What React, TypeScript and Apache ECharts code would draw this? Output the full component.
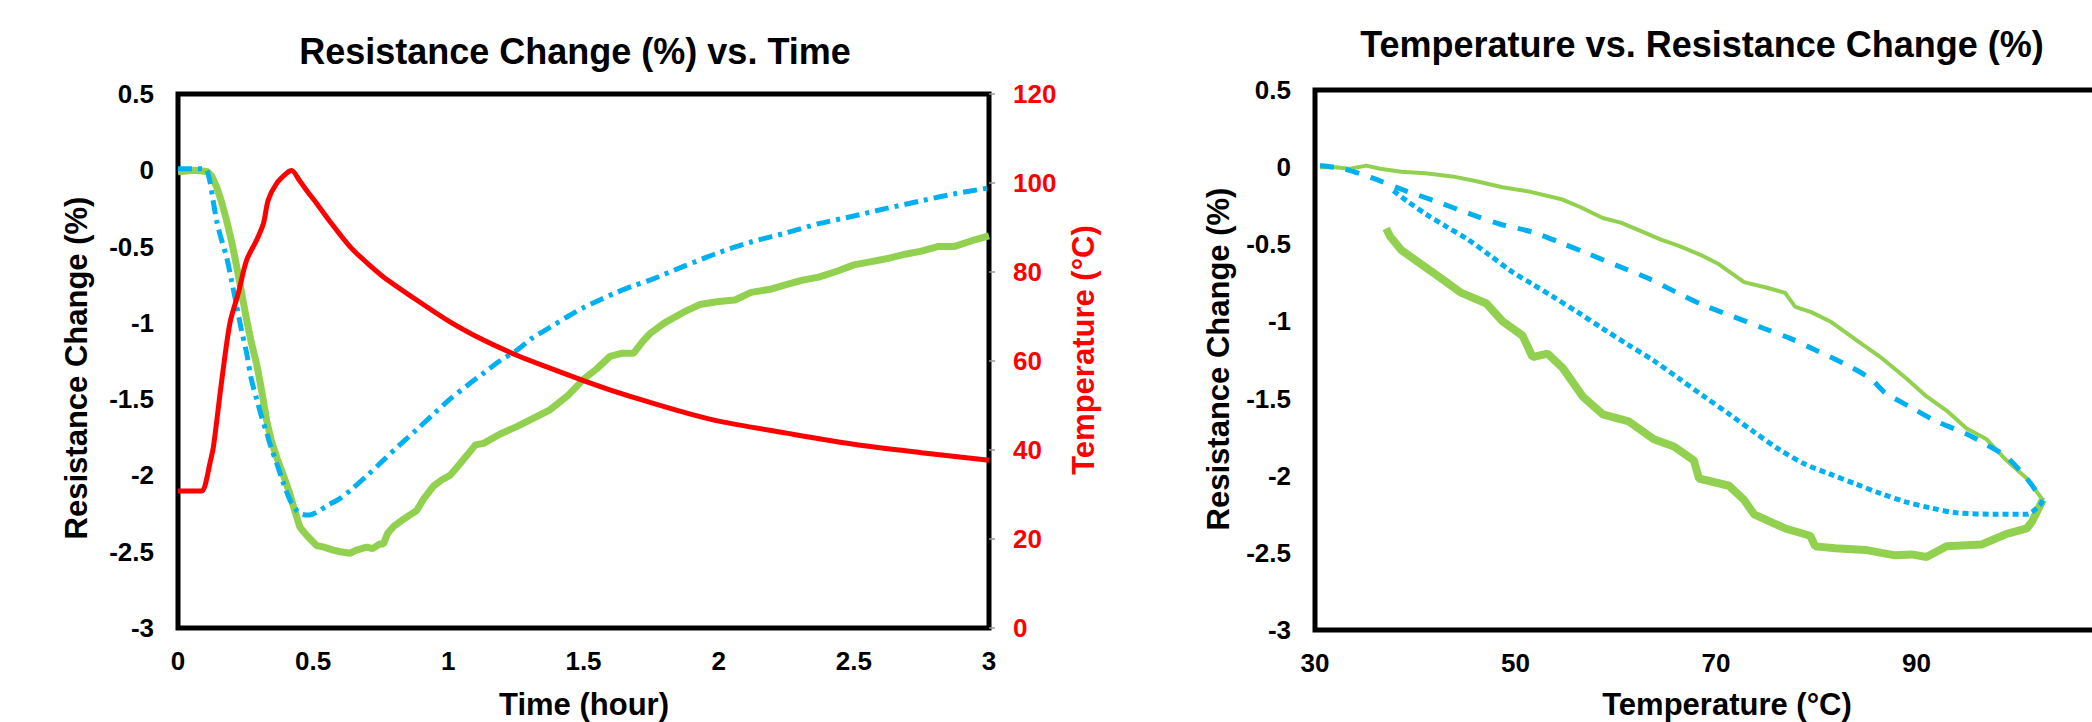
import React, { useEffect, useRef } from 'react';
import * as echarts from 'echarts';

const FONT = '"Liberation Sans", Arial, sans-serif';

// ---- Titles / axis names ----
const leftTitle = 'Resistance Change (%) vs. Time';
const rightTitle = 'Temperature vs. Resistance Change (%)';
const resistanceName = 'Resistance Change (%)';
const timeName = 'Time (hour)';
const tempName = 'Temperature (°C)';

// ---- Left chart: temperature vs time (red, right axis) ----
const tempVsTime: [number, number][] = [
  [0, 30.8], [0.088, 30.8], [0.1, 32], [0.118, 37], [0.131, 40.7], [0.162, 55.7], [0.192, 68.5],
  [0.223, 75.2], [0.254, 82.7], [0.291, 87.2], [0.316, 90.9], [0.334, 96.2], [0.365, 99.9],
  [0.402, 102.2], [0.42, 102.8], [0.45, 100.5], [0.48, 98], [0.513, 95.4], [0.56, 91.5],
  [0.636, 85.7], [0.7, 82], [0.76, 78.9], [0.883, 73.7], [1.006, 68.8], [1.13, 64.7],
  [1.253, 61.3], [1.376, 58.4], [1.5, 55.6], [1.623, 53], [1.746, 50.7], [1.87, 48.5],
  [2.0, 46.5], [2.25, 43.8], [2.5, 41.3], [2.75, 39.4], [3.0, 37.7],
];

// ---- Left chart: resistance change vs time, blue (dash-dot) ----
const blueVsTime: [number, number][] = [
  [0, 0.01], [0.05, 0.01], [0.1, 0.01], [0.115, -0.05], [0.13, -0.2], [0.143, -0.33], [0.16, -0.45],
  [0.18, -0.57], [0.2, -0.74], [0.217, -0.89], [0.235, -1.05], [0.254, -1.2], [0.27, -1.36],
  [0.291, -1.5], [0.31, -1.62], [0.328, -1.72], [0.345, -1.82], [0.365, -1.92], [0.39, -2.05],
  [0.414, -2.16], [0.435, -2.22], [0.451, -2.25], [0.482, -2.26], [0.515, -2.24], [0.55, -2.2],
  [0.6, -2.15], [0.636, -2.1], [0.7, -2.0], [0.76, -1.9], [0.82, -1.8], [0.883, -1.7],
  [0.95, -1.59], [1.006, -1.5], [1.07, -1.41], [1.13, -1.33], [1.19, -1.25], [1.253, -1.18],
  [1.31, -1.1], [1.376, -1.03], [1.44, -0.96], [1.5, -0.9], [1.56, -0.85], [1.623, -0.8],
  [1.68, -0.76], [1.746, -0.72], [1.87, -0.63], [2.0, -0.54], [2.12, -0.47], [2.25, -0.41],
  [2.37, -0.35], [2.5, -0.3], [2.62, -0.25], [2.75, -0.2], [2.87, -0.155], [3.0, -0.115],
];

// ---- Left chart: resistance change vs time, green ----
const greenVsTime: [number, number][] = [
  [0, -0.01], [0.03, -0.005], [0.06, 0.0], [0.09, -0.005], [0.11, -0.01], [0.125, -0.04],
  [0.143, -0.11], [0.16, -0.2], [0.18, -0.33], [0.2, -0.48], [0.217, -0.63], [0.235, -0.8],
  [0.254, -0.98], [0.27, -1.12], [0.291, -1.27], [0.31, -1.45], [0.328, -1.64], [0.345, -1.77],
  [0.365, -1.88], [0.39, -2.0], [0.414, -2.12], [0.43, -2.22], [0.451, -2.34], [0.48, -2.4],
  [0.513, -2.46], [0.54, -2.47], [0.574, -2.49], [0.6, -2.5], [0.636, -2.51], [0.66, -2.49],
  [0.698, -2.47], [0.72, -2.48], [0.745, -2.45], [0.76, -2.45], [0.775, -2.38], [0.8, -2.33],
  [0.84, -2.28], [0.883, -2.23], [0.91, -2.15], [0.945, -2.07], [0.975, -2.03], [1.006, -2.0],
  [1.04, -1.93], [1.068, -1.87], [1.1, -1.8], [1.13, -1.79], [1.19, -1.73], [1.253, -1.68],
  [1.31, -1.63], [1.376, -1.57], [1.44, -1.48], [1.5, -1.37], [1.55, -1.3], [1.598, -1.22],
  [1.64, -1.2], [1.685, -1.2], [1.72, -1.12], [1.746, -1.07], [1.8, -1.0], [1.87, -0.93],
  [1.93, -0.88], [2.0, -0.86], [2.06, -0.85], [2.12, -0.8], [2.19, -0.78], [2.25, -0.75],
  [2.31, -0.72], [2.37, -0.7], [2.44, -0.66], [2.5, -0.62], [2.56, -0.6], [2.62, -0.58],
  [2.69, -0.55], [2.75, -0.53], [2.81, -0.5], [2.87, -0.5], [2.94, -0.46], [3.0, -0.43],
];

// ---- Right chart: resistance change vs temperature ----
const blueHeating: [number, number][] = [
  [30.5, 0.01], [32.8, -0.01], [35.7, -0.07], [38.6, -0.143], [42, -0.22], [45.6, -0.306],
  [48.5, -0.37], [51.7, -0.421], [54.5, -0.49], [57.2, -0.56], [60.2, -0.64], [63.3, -0.722],
  [66, -0.81], [68.8, -0.896], [71.8, -0.97], [74.8, -1.046], [77.4, -1.11], [79.9, -1.185],
  [82.9, -1.278], [85.4, -1.37], [86.9, -1.463], [89.4, -1.555], [92, -1.648], [95, -1.729],
  [97, -1.8], [99, -1.879], [101, -2.018], [102.3, -2.134], [102.6, -2.16],
];
const blueCooling: [number, number][] = [
  [102.6, -2.16], [102.3, -2.19], [101, -2.25], [98, -2.25], [94, -2.24], [91.5, -2.21],
  [88.9, -2.169], [86.4, -2.115], [83.9, -2.053], [81.4, -1.99], [78.9, -1.926], [76.3, -1.83],
  [73.8, -1.717], [71.3, -1.6], [68.8, -1.486], [66.3, -1.37], [63.8, -1.255], [61.2, -1.15],
  [58.7, -1.046], [56.2, -0.94], [53.7, -0.838], [51.6, -0.755], [49.6, -0.676], [47.4, -0.57],
  [45.2, -0.467], [43.1, -0.385], [41.1, -0.306], [39.3, -0.225], [37.6, -0.143],
];
const greenHeating: [number, number][] = [
  [30.5, 0.0], [32, 0.0], [33.5, -0.01], [35.1, 0.01], [36.5, -0.01], [38.6, -0.03], [41, -0.04],
  [43.7, -0.06], [46, -0.09], [48.7, -0.13], [51.5, -0.16], [54.7, -0.21], [56.5, -0.26],
  [58.7, -0.33], [60.5, -0.36], [62.7, -0.42], [64.5, -0.47], [66.3, -0.51], [68.5, -0.57],
  [70.3, -0.63], [72.8, -0.745], [75, -0.78], [76.9, -0.815], [77.9, -0.906], [79.5, -0.94],
  [81.4, -1.0], [83.9, -1.116], [86.4, -1.231], [89, -1.37], [91, -1.486], [93, -1.578],
  [95, -1.694], [97, -1.764], [99, -1.902], [101, -2.018], [102.6, -2.157],
];
const greenCooling: [number, number][] = [
  [102.6, -2.157], [101.5, -2.3], [101, -2.342], [99, -2.377], [96.5, -2.446], [93, -2.457],
  [91, -2.527], [89.5, -2.51], [87.9, -2.516], [86.5, -2.5], [84.9, -2.481], [81.9, -2.47],
  [79.9, -2.458], [79.4, -2.389], [76.9, -2.342], [73.8, -2.25], [72.8, -2.157], [71.3, -2.065],
  [68.3, -2.018], [67.8, -1.902], [65.8, -1.81], [63.8, -1.764], [61.3, -1.648], [58.7, -1.602],
  [56.7, -1.486], [54.7, -1.301], [53.2, -1.208], [51.7, -1.231], [50.7, -1.092], [48.7, -0.999],
  [47.1, -0.884], [44.6, -0.815], [42.6, -0.722], [40.6, -0.63], [38.6, -0.537], [37.5, -0.45],
  [37.1, -0.398],
];

const RED = '#ff0000';
const BLUE = '#00b0f0';
const GREEN = '#92d050';

function labelStyle(color: string, margin: number) {
  return { show: true, color, fontSize: 26, fontWeight: 'bold' as const, fontFamily: FONT, margin };
}

function gText(text: string, x: number, y: number, size: number, color = '#000', rotation = 0) {
  return {
    type: 'text',
    x,
    y,
    rotation,
    style: {
      text,
      fill: color,
      fontSize: size,
      fontWeight: 'bold',
      fontFamily: FONT,
      align: 'center',
      verticalAlign: 'middle',
    },
  };
}

export default function App() {
  const ref = useRef<HTMLDivElement>(null);
  useEffect(() => {
    document.body.style.margin = '0';
    const chart = echarts.init(ref.current!, null, { renderer: 'svg' });
    const option: any = {
      animation: false,
      backgroundColor: '#fff',
      grid: [
        { left: 178, top: 94, width: 811, height: 534, show: true, borderColor: '#000', borderWidth: 5, backgroundColor: 'transparent', containLabel: false, outerBoundsMode: 'none' },
        { left: 1315, top: 90, width: 802, height: 540, show: true, borderColor: '#000', borderWidth: 5, backgroundColor: 'transparent', containLabel: false, outerBoundsMode: 'none' },
      ],
      xAxis: [
        {
          type: 'value', gridIndex: 0, min: 0, max: 3, interval: 0.5,
          axisLine: { show: false }, axisTick: { show: false }, splitLine: { show: false },
          axisLabel: labelStyle('#000', 20),
        },
        {
          type: 'value', gridIndex: 1, min: 30, max: 110, interval: 20,
          axisLine: { show: false }, axisTick: { show: false }, splitLine: { show: false },
          axisLabel: { ...labelStyle('#000', 20), showMaxLabel: false },
        },
      ],
      yAxis: [
        {
          type: 'value', gridIndex: 0, min: -3, max: 0.5, interval: 0.5,
          axisLine: { show: false }, axisTick: { show: false }, splitLine: { show: false },
          axisLabel: labelStyle('#000', 24),
        },
        {
          type: 'value', gridIndex: 0, position: 'right', min: 0, max: 120, interval: 20,
          axisLine: { show: false },
          axisTick: { show: true, length: 6, lineStyle: { color: '#999', width: 1.5 } },
          splitLine: { show: false },
          axisLabel: labelStyle(RED, 24),
        },
        {
          type: 'value', gridIndex: 1, min: -3, max: 0.5, interval: 0.5,
          axisLine: { show: false }, axisTick: { show: false }, splitLine: { show: false },
          axisLabel: labelStyle('#000', 24),
        },
      ],
      graphic: [
        gText(leftTitle, 575, 51, 36),
        gText(rightTitle, 1702, 44, 36),
        gText(resistanceName, 76, 368, 31, '#000', Math.PI / 2),
        gText(timeName, 584, 704, 31),
        gText(tempName, 1083, 350, 31, RED, Math.PI / 2),
        gText(resistanceName, 1218, 359, 31, '#000', Math.PI / 2),
        gText(tempName, 1727, 704, 31),
      ],
      series: [
        {
          type: 'line', xAxisIndex: 0, yAxisIndex: 0, data: greenVsTime, showSymbol: false,
          lineStyle: { color: GREEN, width: 7 },
        },
        {
          type: 'line', xAxisIndex: 0, yAxisIndex: 0, data: blueVsTime, showSymbol: false, smooth: 0.3,
          lineStyle: { color: BLUE, width: 5, type: [14, 6, 4, 6] },
        },
        {
          type: 'line', xAxisIndex: 0, yAxisIndex: 1, data: tempVsTime, showSymbol: false, smooth: 0.3,
          lineStyle: { color: RED, width: 5 },
        },
        {
          type: 'line', xAxisIndex: 1, yAxisIndex: 2, data: greenHeating, showSymbol: false,
          lineStyle: { color: GREEN, width: 4 },
        },
        {
          type: 'line', xAxisIndex: 1, yAxisIndex: 2, data: greenCooling, showSymbol: false,
          lineStyle: { color: GREEN, width: 8 },
        },
        {
          type: 'line', xAxisIndex: 1, yAxisIndex: 2, data: blueHeating, showSymbol: false, smooth: 0.3,
          lineStyle: { color: BLUE, width: 5, type: [14, 12] },
        },
        {
          type: 'line', xAxisIndex: 1, yAxisIndex: 2, data: blueCooling, showSymbol: false, smooth: 0.3,
          lineStyle: { color: BLUE, width: 5, type: [6, 4] },
        },
      ],
    };
    chart.setOption(option);
    return () => chart.dispose();
  }, []);
  return <div ref={ref} style={{ width: 2092, height: 722, background: '#fff' }} />;
}
